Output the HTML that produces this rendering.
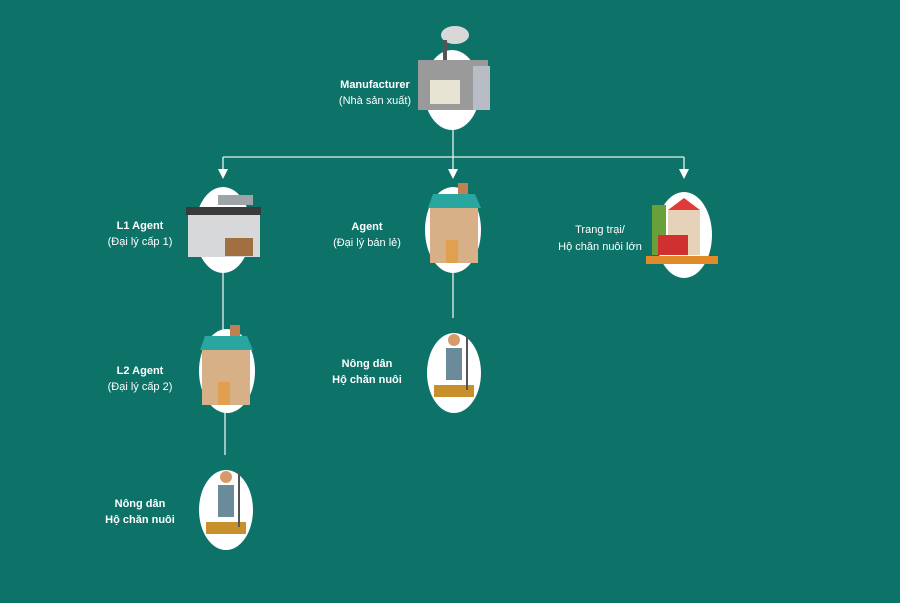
<!DOCTYPE html>
<html><head><meta charset="utf-8"><style>
body{margin:0;background:#0d7369;}
svg{display:block}
text{font-family:"Liberation Sans",sans-serif;fill:#fff;font-size:11px;text-anchor:middle}
.b{font-weight:bold}
</style></head><body>
<svg width="900" height="603" viewBox="0 0 900 603">
<rect width="900" height="603" fill="#0d7369"/>
<g stroke="#e8f2f0" stroke-width="1.3" fill="none">
<line x1="453" y1="130" x2="453" y2="175"/>
<line x1="223" y1="157" x2="684" y2="157"/>
<line x1="223" y1="157" x2="223" y2="175"/>
<line x1="684" y1="157" x2="684" y2="175"/>
<line x1="223" y1="272" x2="223" y2="335"/>
<line x1="225" y1="412" x2="225" y2="455"/>
<line x1="453" y1="272" x2="453" y2="318"/>
</g>
<g fill="#fff">
<path d="M218 169 L228 169 L223 179Z"/><path d="M448 169 L458 169 L453 179Z"/><path d="M679 169 L689 169 L684 179Z"/>
<ellipse cx="452" cy="90" rx="28" ry="40"/>
<ellipse cx="223" cy="230" rx="28" ry="43"/>
<ellipse cx="453" cy="230" rx="28" ry="43"/>
<ellipse cx="684" cy="235" rx="28" ry="43"/>
<ellipse cx="227" cy="371" rx="28" ry="42"/>
<ellipse cx="454" cy="373" rx="27" ry="40"/>
<ellipse cx="226" cy="510" rx="27" ry="40"/>
</g>
<!-- factory -->
<ellipse cx="455" cy="35" rx="14" ry="9" fill="#d8d8d8"/>
<rect x="443" y="40" width="4" height="40" fill="#555"/>
<rect x="418" y="60" width="70" height="50" fill="#9a9a9a"/>
<rect x="473" y="66" width="17" height="44" fill="#b8bcc4"/>
<rect x="430" y="80" width="30" height="24" fill="#e8e4d4"/>
<!-- L1 -->
<rect x="218" y="195" width="35" height="10" fill="#9ea3a8"/>
<rect x="186" y="207" width="75" height="8" fill="#3a3a3a"/>
<rect x="188" y="215" width="72" height="42" fill="#d6d8da"/>
<rect x="225" y="238" width="28" height="18" fill="#a07040"/>
<!-- houses -->
<g id="h">
<rect x="458" y="183" width="10" height="18" fill="#c08050"/>
<path d="M428 208 L433 194 L475 194 L481 208Z" fill="#2aa6a0"/>
<rect x="430" y="208" width="48" height="55" fill="#d8b088"/>
<rect x="446" y="240" width="12" height="23" fill="#e0a050"/>
</g>
<use href="#h" x="-228" y="142"/>
<!-- farm -->
<rect x="652" y="205" width="14" height="50" fill="#6aa03a"/>
<path d="M668 210 L684 198 L700 210Z" fill="#e03a3a"/>
<rect x="668" y="210" width="32" height="45" fill="#e6d2b8"/>
<rect x="658" y="235" width="30" height="20" fill="#d03030"/>
<rect x="646" y="256" width="72" height="8" fill="#e08a2a"/>
<!-- farmers -->
<g id="f">
<circle cx="454" cy="340" r="6" fill="#d99a6a"/>
<rect x="446" y="348" width="16" height="32" fill="#6b8a9a"/>
<rect x="434" y="385" width="40" height="12" fill="#c8902a"/>
<rect x="466" y="335" width="2" height="55" fill="#555"/>
</g>
<use href="#f" x="-228" y="137"/>
<text x="375" y="88" class="b">Manufacturer</text>
<text x="375" y="104">(Nhà sản xuất)</text>
<text x="140" y="229" class="b">L1 Agent</text>
<text x="140" y="245">(Đại lý cấp 1)</text>
<text x="367" y="230" class="b">Agent</text>
<text x="367" y="246">(Đại lý bán lẻ)</text>
<text x="600" y="233">Trang trại/</text>
<text x="600" y="250">Hộ chăn nuôi lớn</text>
<text x="140" y="374" class="b">L2 Agent</text>
<text x="140" y="390">(Đại lý cấp 2)</text>
<text x="367" y="367" class="b">Nông dân</text>
<text x="367" y="383" class="b">Hộ chăn nuôi</text>
<text x="140" y="507" class="b">Nông dân</text>
<text x="140" y="523" class="b">Hộ chăn nuôi</text>
</svg>
</body></html>
